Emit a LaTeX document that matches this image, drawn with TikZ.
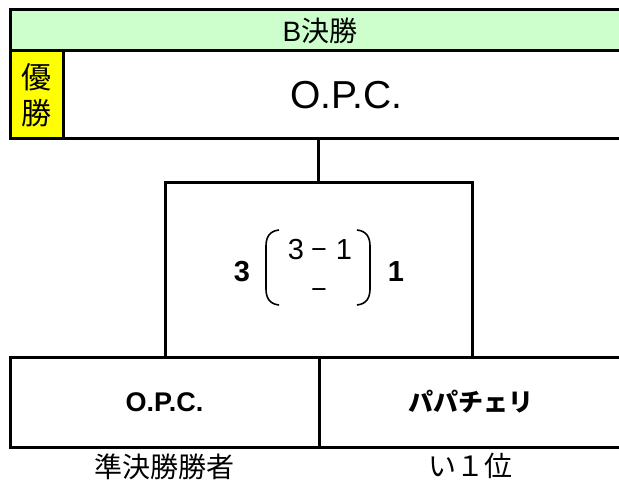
\documentclass[tikz,border=0pt]{standalone}
\usepackage{fontspec}
\setmainfont{Liberation Sans}
\newfontfamily\jp{Noto Sans CJK JP}
\usetikzlibrary{positioning}
\definecolor{bandgreen}{HTML}{CCFFCC}
\definecolor{winyellow}{HTML}{FFFF00}
\tikzset{
	cell/.style={draw, line width=3pt, inner sep=0pt, outer sep=0pt, anchor=north west},
	big/.style={font=\fontsize{#1}{#1}\selectfont},
	bracket/.style={line width=1.6pt},
}
\begin{document}
\begin{tikzpicture}[x=1pt, y=-1pt]
	\useasboundingbox (0,0) rectangle (619,481);
	\clip (0,0) rectangle (619,481);
	\node[cell, fill=bandgreen, minimum width=620pt, minimum height=41pt, font=\fontsize{28}{28}\selectfont] (band) at (10,10) {B{\jp 決勝}};
	\node[cell, fill=winyellow, minimum width=53pt, minimum height=88pt, align=center, font=\jp\fontsize{30}{36}\selectfont] (yusho) at (band.south west) {優\\勝};
	\node[cell, minimum width=567pt, minimum height=88pt, big=39] (winner) at (yusho.north east) {O.P.C.};
	\node[cell, minimum width=307pt, minimum height=174pt] (final) at (165,183) {};
	\draw[line width=3pt] (winner.south -| final.north) -- (final.north);
	\node[cell, minimum width=309pt, minimum height=90pt, font=\bfseries\fontsize{27}{27}\selectfont] (semi) at (10,357) {O.P.C.};
	\node[cell, minimum width=303pt, minimum height=90pt, font=\jp\bfseries\fontsize{25}{25}\selectfont] (group) at (semi.north east) {パパチェリ};
	\node[below=3pt of semi.south, font=\jp\fontsize{28}{28}\selectfont] (semiLab) {準決勝勝者};
	\node[below=3pt of group.south, font=\jp\fontsize{28}{28}\selectfont] (groupLab) {い１位};
	\node[font=\bfseries\fontsize{29}{29}\selectfont] (setL) at (242,272) {3};
	\node[font=\bfseries\fontsize{29}{29}\selectfont] (setR) at (396,272) {1};
	\draw[bracket] (279,230) .. controls (269,231) and (266,238) .. (266,246) -- (266,289) .. controls (266,297) and (269,304) .. (279,305);
	\draw[bracket] (357,230) .. controls (367,231) and (370,238) .. (370,246) -- (370,289) .. controls (370,297) and (367,304) .. (357,305);
	\node[big=29] (gameA) at (296,250) {3};
	\node[big=27] (dashA) at (319,254) {−};
	\node[big=29] (gameB) at (344,250) {1};
	\node[big=27] (dashB) at (319,294) {−};
\end{tikzpicture}
\end{document}
